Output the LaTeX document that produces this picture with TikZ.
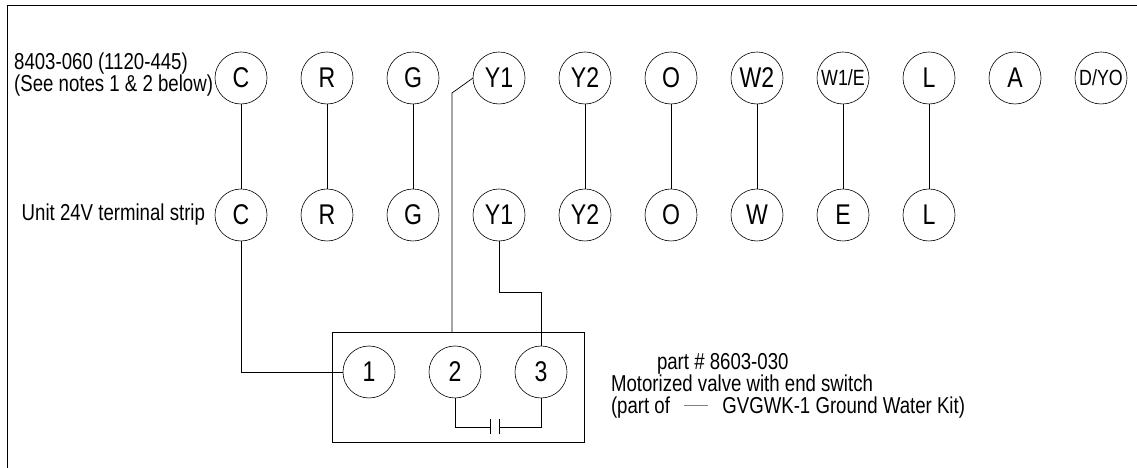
\documentclass[tikz,border=0pt]{standalone}
\usepackage{fontspec}
\setmainfont[FakeStretch=0.81]{Liberation Sans}
\usetikzlibrary{positioning,calc}
\tikzset{
	terminal/.style={draw,circle,minimum size=52pt,inner sep=0pt,outer sep=0pt,line width=0.6pt,font=\fontsize{28.5}{28.5}\selectfont},
	smallterm/.style={terminal,font=\fontsize{22}{22}\selectfont},
	wire/.style={line width=0.7pt},
	note/.style={inner sep=0pt,outer sep=0pt,align=left,font=\fontsize{23}{22}\selectfont}
}

\begin{document}
\begin{tikzpicture}[x=1pt,y=1pt,node distance=34pt]
			\useasboundingbox (0,0) rectangle (1137,468);
			\coordinate (tl) at (7,463);
			\coordinate (tr) at (1137,463);
			\coordinate (bl) at (7,0);
			\draw[wire] (bl) -- (tl) -- (tr);
			% top row
			\node[terminal] at (241,390) (topC) {C};
			\node[terminal,right=of topC] (topR) {R};
			\node[terminal,right=of topR] (topG) {G};
			\node[terminal,right=of topG] (topYa) {Y1};
			\node[terminal,right=of topYa] (topYb) {Y2};
			\node[terminal,right=of topYb] (topO) {O};
			\node[terminal,right=of topO] (topWb) {W2};
			\node[smallterm,right=of topWb] (topWa) {W1/E};
			\node[terminal,right=of topWa] (topL) {L};
			\node[terminal,right=of topL] (topA) {A};
			\node[smallterm,right=of topA] (topD) {D/YO};
			% terminal strip
			\node[terminal,below=85pt of topC] (unitC) {C};
			\node[terminal,right=of unitC] (unitR) {R};
			\node[terminal,right=of unitR] (unitG) {G};
			\node[terminal,right=of unitG] (unitY) {Y1};
			\node[terminal,right=of unitY] (unitYb) {Y2};
			\node[terminal,right=of unitYb] (unitO) {O};
			\node[terminal,right=of unitO] (unitW) {W};
			\node[terminal,right=of unitW] (unitE) {E};
			\node[terminal,right=of unitE] (unitL) {L};
			% valve
			\node[draw,line width=0.7pt,minimum width=252pt,minimum height=110pt,inner sep=0pt,outer sep=0pt] at (458,81) (valve) {};
			\node[terminal] at (369,96) (one) {1};
			\node[terminal,right=of one] (two) {2};
			\node[terminal,right=of two] (three) {3};
			%
			\node[note,left=2pt of topC,yshift=3pt] (topnote) {8403-060 (1120-445)\\(See notes 1 \& 2 below)};
			\node[note,left=10pt of unitC] (unitnote) {Unit 24V terminal strip};
			\node[note,anchor=north west] at (611,115) (valvenote) {\hspace*{46pt}part \# 8603-030\\Motorized valve with end switch\\(part of \hspace{42pt} GVGWK-1 Ground Water Kit)};
			%
			\foreach \a/\b in {topC/unitC,topR/unitR,topG/unitG,topYb/unitYb,topO/unitO,topWb/unitW,topWa/unitE,topL/unitL}
				\draw[wire] (\a) -- (\b);
			\coordinate (bendY) at (452,375);
			\coordinate (plateL) at (490,41);
			\coordinate (plateR) at (499,41);
			\coordinate (midY) at ($(unitY.south)+(0,-51pt)$);
			\draw[wire] (topYa.west) -- (bendY) -- (bendY |- valve.north);
			\draw[wire] (unitC.south) |- (one.west);
			\draw[wire] (unitY.south) -- (midY) -| (three.north);
			\draw[wire] (two.south) |- (plateL);
			\draw[wire] (three.south) |- (plateR);
			\draw[wire] ($(plateL)+(0,7.5)$) -- ($(plateL)+(0,-7.5)$);
			\draw[wire] ($(plateR)+(0,7.5)$) -- ($(plateR)+(0,-7.5)$);
			% dash in the kit note
			\coordinate (dashL) at (684,63);
			\coordinate (dashR) at (708,63);
			\draw[line width=0.7pt,gray] (dashL) -- (dashR);
\end{tikzpicture}
\end{document}
